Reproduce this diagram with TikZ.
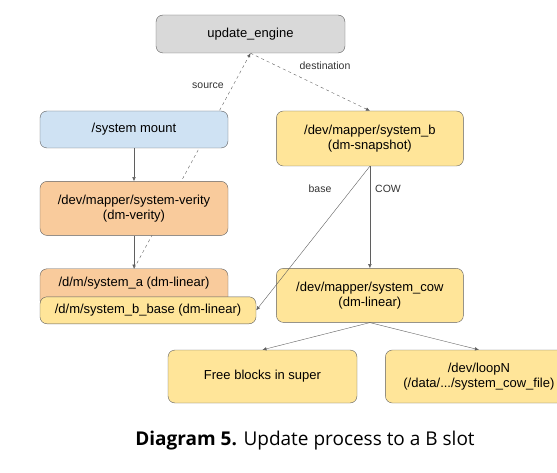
\documentclass[tikz,border=0pt]{standalone}
\usepackage{fontspec}
\setmainfont{Liberation Sans}
\newfontfamily\captionfont{Open Sans}
\usetikzlibrary{positioning,arrows.meta,backgrounds}
\definecolor{enginegrey}{RGB}{217,217,217}
\definecolor{mountblue}{RGB}{207,226,243}
\definecolor{verityorange}{RGB}{249,203,156}
\definecolor{slotyellow}{RGB}{255,229,153}
\definecolor{edgegrey}{RGB}{95,95,95}

\begin{document}
\begin{tikzpicture}[x=1pt,y=-1pt,>={Latex[length=4pt,width=3.5pt]},
    box/.style={draw=edgegrey,rounded corners=7pt,align=center,font=\fontsize{13}{15.5}\selectfont,minimum width=188pt,inner sep=2pt},
    lbl/.style={font=\fontsize{10.5}{12}\selectfont,text=black!80},
    link/.style={draw=edgegrey,->}]
    \useasboundingbox (0,0) rectangle (557,473);
    \node[box,fill=enginegrey,minimum width=189pt,minimum height=38pt] (engine) at (250.5,34) {update\_engine};
    \node[box,fill=mountblue,minimum height=37pt] (mount) at (134,129.5) {/system mount};
    \node[box,fill=verityorange,minimum height=54pt,below=33pt of mount] (verity) {/dev/mapper/system-verity\\(dm-verity)};
    \node[box,fill=verityorange,minimum height=38pt,text depth=13pt,below=33pt of verity] (sysa) {/d/m/system\_a (dm-linear)};
    \node[box,fill=slotyellow,minimum width=216pt,minimum height=27pt,anchor=north west] (bbase) at ([yshift=-28pt]sysa.north west) {/d/m/system\_b\_base (dm-linear)};
    \node[box,fill=slotyellow,minimum width=187pt,minimum height=55pt,right=48pt of mount.north east,anchor=north west] (sysb) {/dev/mapper/system\_b\\(dm-snapshot)};
    \node[box,fill=slotyellow,minimum width=187pt,minimum height=54pt,below=102pt of sysb] (cow) {/dev/mapper/system\_cow\\(dm-linear)};
    \node[box,fill=slotyellow,minimum width=189pt,minimum height=53pt] (free) at (262.5,376.5) {Free blocks in super};
    \node[box,fill=slotyellow,minimum width=187pt,minimum height=53pt,right=28pt of free] (loop) {/dev/loopN\\(/data/.../system\_cow\_file)};
    % requests of the engine
    \begin{scope}[on background layer]
      \draw[link,dashed] (sysa.north) -- (engine.south);
    \end{scope}
    \draw[link,dashed] (engine.south) -- (sysb.north);
    \node[lbl] (srclbl) at (208,86) {source};
    \node[lbl] (dstlbl) at (325,66) {destination};
    % device mapper stack
    \draw[link] (mount) -- (verity);
    \draw[link] (verity) -- (sysa);
    \draw[link] (sysb.south) -- (cow.north);
    \draw[link] (sysb.south) -- (bbase.east);
    \node[lbl] (baselbl) at (320,189) {base};
    \node[lbl] (cowlbl) at (388,189) {COW};
    \draw[link] (cow.south) -- (free.north);
    \draw[link] (cow.south) -- (loop.north);
    \node[font=\captionfont\fontsize{19}{22}\selectfont] (caption) at (305,441) {\textbf{Diagram 5.} Update process to a B slot};
  \end{tikzpicture}
\end{document}
